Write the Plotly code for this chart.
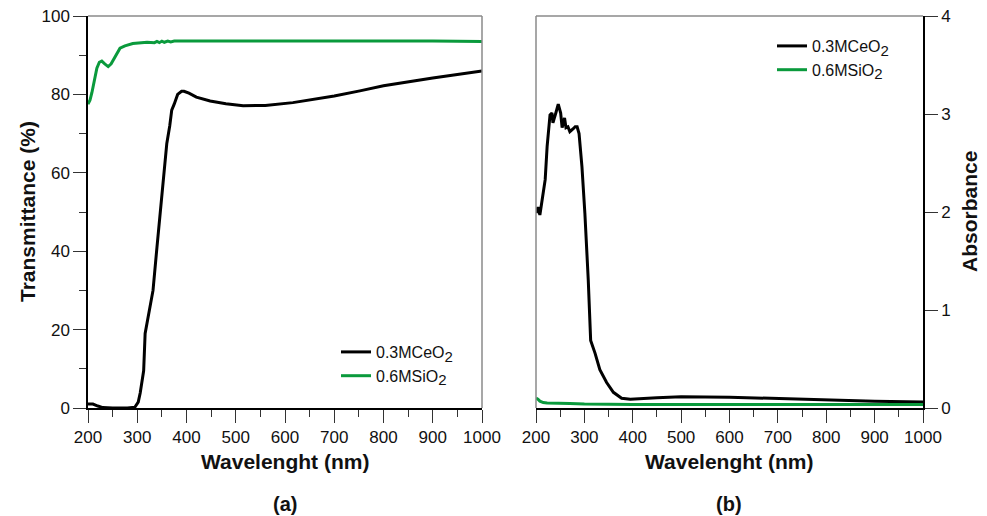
import plotly.graph_objects as go

# ---- Transmittance (panel a) ----
wl_t_ceo2 = [200, 210, 220, 230, 250, 280, 295, 302, 306, 310, 313, 316, 320, 326, 332,
             340, 346, 353, 360, 366, 370, 375, 382, 390, 395, 405, 420, 448, 480, 515,
             560, 616, 700, 752, 800, 900, 1000]
t_ceo2 = [1.0, 1.0, 0.5, 0.1, 0.0, 0.0, 0.2, 1.5, 3.8, 7.0, 9.5, 19.0, 22.0, 26.0, 30.0,
          41.0, 49.0, 58.0, 67.5, 72.0, 76.0, 77.5, 80.0, 80.8, 80.8, 80.3, 79.3, 78.3,
          77.6, 77.1, 77.2, 77.9, 79.6, 80.9, 82.2, 84.2, 86.0]

wl_t_sio2 = [200, 204, 208, 213, 218, 223, 228, 234, 241, 247, 255, 260, 265, 275, 291,
             320, 335, 340, 345, 350, 355, 362, 368, 375, 400, 500, 600, 700, 800, 900, 1000]
t_sio2 = [77.5, 78.5, 80.5, 84.0, 86.7, 88.2, 88.5, 87.8, 87.1, 87.8, 89.6, 91.0, 91.8,
          92.4, 93.0, 93.3, 93.2, 93.5, 93.2, 93.6, 93.3, 93.6, 93.4, 93.6, 93.6, 93.7,
          93.7, 93.7, 93.7, 93.6, 93.5]

# ---- Absorbance (panel b) ----
wl_a_ceo2 = [200, 204, 208, 212, 219, 223, 229, 233, 235, 241, 246, 251, 254, 259, 262,
             266, 270, 277, 281, 285, 289, 295, 301, 308, 313, 322, 332, 346, 360, 377,
             395, 450, 500, 600, 700, 800, 900, 1000]
a_ceo2 = [1.99, 2.05, 1.97, 2.12, 2.33, 2.67, 2.99, 3.01, 2.91, 3.01, 3.10, 3.01, 2.86,
          2.96, 2.86, 2.87, 2.82, 2.85, 2.87, 2.87, 2.80, 2.46, 1.99, 1.31, 0.69, 0.56,
          0.39, 0.26, 0.16, 0.10, 0.09, 0.105, 0.115, 0.11, 0.095, 0.08, 0.07, 0.06]

wl_a_sio2 = [200, 204, 208, 215, 223, 250, 270, 300, 400, 600, 800, 1000]
a_sio2 = [0.10, 0.09, 0.07, 0.055, 0.05, 0.05, 0.045, 0.04, 0.035, 0.035, 0.035, 0.035]

SUB2 = "<sub><span style='font-size:15px'>2</span></sub>"
names = ["0.3MCeO" + SUB2, "0.6MSiO" + SUB2]
colors = ["#000000", "#0a9a3c"]

W, H = 987, 516
FONT = "Arial, Liberation Sans, sans-serif"


def px_x(p):
    return p / W


def px_y(p):
    return 1 - p / H


fig = go.Figure()
fig.add_trace(go.Scatter(x=wl_t_ceo2, y=t_ceo2, mode="lines", name=names[0],
                         line=dict(color=colors[0], width=3), xaxis="x", yaxis="y",
                         legend="legend"))
fig.add_trace(go.Scatter(x=wl_t_sio2, y=t_sio2, mode="lines", name=names[1],
                         line=dict(color=colors[1], width=3), xaxis="x", yaxis="y",
                         legend="legend"))
fig.add_trace(go.Scatter(x=wl_a_ceo2, y=a_ceo2, mode="lines", name=names[0],
                         line=dict(color=colors[0], width=3), xaxis="x2", yaxis="y2",
                         legend="legend2"))
fig.add_trace(go.Scatter(x=wl_a_sio2, y=a_sio2, mode="lines", name=names[1],
                         line=dict(color=colors[1], width=3), xaxis="x2", yaxis="y2",
                         legend="legend2"))

tickfont = dict(family=FONT, size=17, color="#111")
xax = dict(range=[200, 1000], dtick=100, ticks="outside", ticklen=13, tickwidth=1.3,
           tickcolor="#333", showline=True, linecolor="#000", linewidth=1.5,
           showgrid=False, zeroline=False, tickfont=tickfont, automargin=False,
           minor=dict(dtick=50, ticks="outside", ticklen=7, tickcolor="#333", tickwidth=1.3))
ydom = [px_y(408), px_y(16)]

fig.update_layout(
    width=W, height=H, margin=dict(l=0, r=0, t=0, b=0, autoexpand=False),
    paper_bgcolor="white", plot_bgcolor="white",
    font=dict(family=FONT),
    xaxis=dict(xax, domain=[px_x(88), px_x(482)], anchor="y"),
    yaxis=dict(range=[0, 100], dtick=20, ticks="outside", ticklen=13, tickwidth=1.3,
               tickcolor="#333", showline=True, linecolor="#000", linewidth=1.5,
               showgrid=False, zeroline=False, tickfont=tickfont, domain=ydom, anchor="x",
               automargin=False,
               minor=dict(dtick=10, ticks="outside", ticklen=7, tickcolor="#333", tickwidth=1.3)),
    xaxis2=dict(xax, domain=[px_x(536), px_x(923)], anchor="y2"),
    yaxis2=dict(range=[0, 4], dtick=1, ticks="outside", ticklen=13, tickwidth=1.3,
                tickcolor="#333", showline=True, linecolor="#000", linewidth=1.5,
                showgrid=False, zeroline=False, tickfont=tickfont, domain=ydom,
                anchor="x2", side="right", automargin=False),
    legend=dict(x=px_x(336), y=px_y(335), xanchor="left", yanchor="top",
                bgcolor="rgba(0,0,0,0)", font=dict(family=FONT, size=16, color="#111"),
                tracegroupgap=0),
    legend2=dict(x=px_x(772), y=px_y(29), xanchor="left", yanchor="top",
                 bgcolor="rgba(0,0,0,0)", font=dict(family=FONT, size=16, color="#111"),
                 tracegroupgap=0),
    showlegend=True,
)

# gray frame edges (top/right of panel a, top/left of panel b)
gray = dict(color="#8a8a8a", width=1.5)
fig.add_shape(type="line", xref="x domain", yref="y domain", x0=0, x1=1, y0=1, y1=1, line=gray)
fig.add_shape(type="line", xref="x domain", yref="y domain", x0=1, x1=1, y0=0, y1=1, line=gray)
fig.add_shape(type="line", xref="x2 domain", yref="y2 domain", x0=0, x1=1, y0=1, y1=1, line=gray)
fig.add_shape(type="line", xref="x2 domain", yref="y2 domain", x0=0, x1=0, y0=0, y1=1, line=gray)

titlefont = dict(family=FONT, size=21, color="#111")
annos = [
    dict(text="<b>Wavelenght (nm)</b>", x=px_x(285), y=px_y(461)),
    dict(text="<b>Wavelenght (nm)</b>", x=px_x(729), y=px_y(461)),
    dict(text="<b>Transmittance (%)</b>", x=px_x(27), y=px_y(212), textangle=-90),
    dict(text="<b>Absorbance</b>", x=px_x(969), y=px_y(212), textangle=-90),
    dict(text="<b>(a)</b>", x=px_x(285), y=px_y(504), size=20),
    dict(text="<b>(b)</b>", x=px_x(729), y=px_y(504), size=20),
]
for a in annos:
    size = a.pop("size", 21)
    fig.add_annotation(xref="paper", yref="paper", showarrow=False,
                       xanchor="center", yanchor="middle",
                       font=dict(titlefont, size=size), **a)

fig.write_html("out.html")
